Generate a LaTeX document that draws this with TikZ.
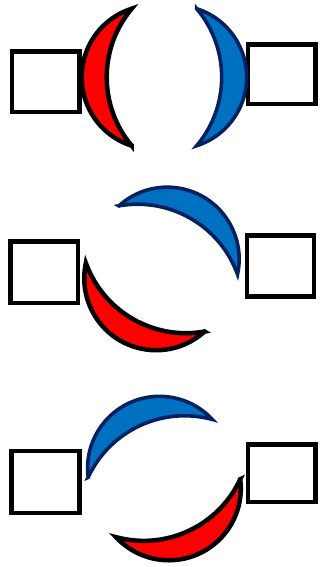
\documentclass[tikz,border=0pt]{standalone}
\usetikzlibrary{calc}
\definecolor{lensred}{HTML}{FF0000}
\definecolor{lensblue}{HTML}{0070C0}
\definecolor{lensnavy}{HTML}{002060}
\def\lensH{68.5}
\def\lensSo{50}
\def\lensSi{25}
\tikzset{
  x=1pt, y=1pt,
  boxnode/.style={draw=black, line width=4.7pt, fill=white, inner sep=0pt, outer sep=0pt},
  redlens/.style={draw=black, fill=lensred, line width=4.5pt},
  bluelens/.style={draw=lensnavy, fill=lensblue, line width=3.6pt},
  crescent/.pic={
    \pgfmathsetmacro\lensRo{(\lensH*\lensH+\lensSo*\lensSo)/(2*\lensSo)}
    \pgfmathsetmacro\lensRi{(\lensH*\lensH+\lensSi*\lensSi)/(2*\lensSi)}
    \pgfmathsetmacro\lensTo{asin(\lensH/\lensRo)}
    \pgfmathsetmacro\lensTi{asin(\lensH/\lensRi)}
    \path[pic actions] (0,\lensH) arc[start angle=\lensTo, end angle=-\lensTo, radius=\lensRo]
      arc[start angle=-\lensTi, end angle=\lensTi, radius=\lensRi] -- cycle;
  }
}
\begin{document}
\begin{tikzpicture}
\useasboundingbox (0,0) rectangle (320,-567);
% panel centres
\coordinate (c1) at (164.2,-77.2);
\coordinate (c2) at (161.7,-268.7);
\coordinate (c3) at (164.2,-478.3);
% boxes
\node[boxnode, minimum width=67.7pt, minimum height=60.7pt] (b1l) at (45.85,-81.65) {};
\node[boxnode, minimum width=67.3pt, minimum height=59.3pt] (b1r) at (281.65,-74.35) {};
\node[boxnode, minimum width=67.7pt, minimum height=61.7pt] (b2l) at (44.15,-272.15) {};
\node[boxnode, minimum width=67pt, minimum height=61pt] (b2r) at (280.5,-265.8) {};
\node[boxnode, minimum width=68.4pt, minimum height=62pt] (b3l) at (45.5,-482) {};
\node[boxnode, minimum width=67.3pt, minimum height=57.3pt] (b3r) at (281.65,-473.35) {};
% lenses
\pic[redlens, rotate=180] (r1) at ($(c1)+(180:32.5)$) {crescent};
\pic[bluelens, rotate=0] (u1) at ($(c1)+(0:32.5)$) {crescent};
\pic[redlens, rotate=240] (r2) at ($(c2)+(240:33)$) {crescent};
\pic[bluelens, rotate=60] (u2) at ($(c2)+(60:33)$) {crescent};
\pic[redlens, rotate=295] (r3) at ($(c3)+(295:33)$) {crescent};
\pic[bluelens, rotate=115] (u3) at ($(c3)+(115:33)$) {crescent};
\end{tikzpicture}
\end{document}
